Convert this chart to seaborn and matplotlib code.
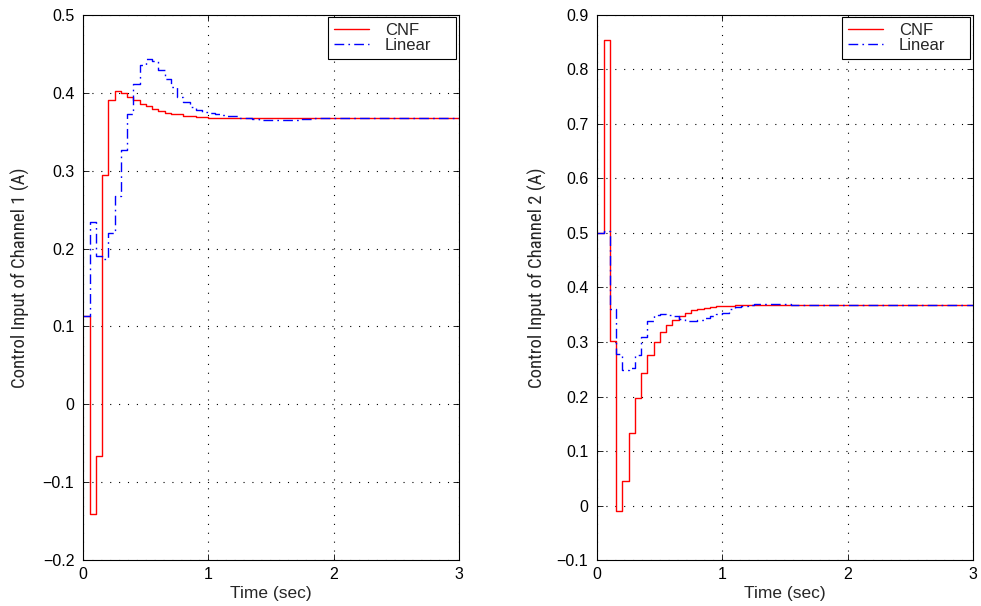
import numpy as np
import pandas as pd
import matplotlib
matplotlib.use("Agg")
import matplotlib.pyplot as plt
from matplotlib import font_manager as fm
import seaborn as sns

# ---------------- data ----------------
dt = 0.05  # sample period (sec)

ch1_cnf = [0.114, -0.141, -0.066, 0.294, 0.390, 0.402, 0.3996, 0.394, 0.390, 0.3855,
           0.3825, 0.379, 0.376, 0.3745, 0.373, 0.372, 0.3705, 0.3695, 0.369, 0.3685,
           0.368, 0.368, 0.368, 0.368, 0.368, 0.368, 0.368, 0.368, 0.368, 0.368,
           0.368, 0.368, 0.368, 0.368, 0.368, 0.368, 0.368, 0.368, 0.368, 0.368,
           0.368, 0.368, 0.368, 0.368, 0.368, 0.368, 0.368, 0.368, 0.368, 0.368,
           0.368, 0.368, 0.368, 0.368, 0.368, 0.368, 0.368, 0.368, 0.368, 0.368]
ch1_linear = [0.114, 0.234, 0.190, 0.187, 0.220, 0.268, 0.326, 0.372, 0.411, 0.435,
              0.443, 0.441, 0.429, 0.418, 0.407, 0.395, 0.388, 0.381, 0.378, 0.375,
              0.3735, 0.372, 0.371, 0.370, 0.3695, 0.368, 0.367, 0.366, 0.365, 0.365,
              0.365, 0.365, 0.365, 0.365, 0.3655, 0.366, 0.3665, 0.367, 0.3675, 0.368,
              0.368, 0.368, 0.368, 0.368, 0.368, 0.368, 0.368, 0.368, 0.368, 0.368,
              0.368, 0.368, 0.368, 0.368, 0.368, 0.368, 0.368, 0.368, 0.368, 0.368]
ch2_cnf = [0.499, 0.853, 0.302, -0.009, 0.045, 0.133, 0.197, 0.243, 0.276, 0.300,
           0.318, 0.332, 0.341, 0.348, 0.354, 0.358, 0.361, 0.363, 0.3645, 0.366,
           0.367, 0.367, 0.3675, 0.368, 0.368, 0.368, 0.368, 0.368, 0.368, 0.368,
           0.368, 0.368, 0.368, 0.368, 0.368, 0.368, 0.368, 0.368, 0.368, 0.368,
           0.368, 0.368, 0.368, 0.368, 0.368, 0.368, 0.368, 0.368, 0.368, 0.368,
           0.368, 0.368, 0.368, 0.368, 0.368, 0.368, 0.368, 0.368, 0.368, 0.368]
ch2_linear = [0.499, 0.504, 0.360, 0.278, 0.249, 0.253, 0.277, 0.310, 0.338, 0.349,
              0.351, 0.350, 0.347, 0.343, 0.339, 0.338, 0.340, 0.344, 0.347, 0.352,
              0.354, 0.361, 0.364, 0.366, 0.368, 0.3695, 0.3695, 0.3695, 0.3695, 0.369,
              0.369, 0.368, 0.368, 0.368, 0.368, 0.368, 0.368, 0.368, 0.368, 0.368,
              0.368, 0.368, 0.368, 0.368, 0.368, 0.368, 0.368, 0.368, 0.368, 0.368,
              0.368, 0.368, 0.368, 0.368, 0.368, 0.368, 0.368, 0.368, 0.368, 0.368]

series_labels = ["CNF", "Linear"]
x_ticks = [0, 1, 2, 3]
ch1_yticks = [-0.2, -0.1, 0, 0.1, 0.2, 0.3, 0.4, 0.5]
ch2_yticks = [-0.1, 0, 0.1, 0.2, 0.3, 0.4, 0.5, 0.6, 0.7, 0.8, 0.9]
x_label = "Time (sec)"
y_labels = ["Control Input of Channel 1 (A)", "Control Input of Channel 2 (A)"]

# ---------------- style ----------------
sns.set_theme(style="white", rc={
    "xtick.direction": "in", "ytick.direction": "in",
    "xtick.top": True, "ytick.right": True,
    "xtick.bottom": True, "ytick.left": True,
    "xtick.major.size": 4, "ytick.major.size": 4,
    "xtick.major.width": 0.6, "ytick.major.width": 0.6,
    "axes.edgecolor": "black", "axes.linewidth": 0.8,
})
plt.rcParams["font.family"] = ["Liberation Sans", "DejaVu Sans"]

installed = {f.name for f in fm.fontManager.ttflist}
if "Liberation Sans Narrow" in installed:
    ylab_family, ylab_size = ["Liberation Sans Narrow", "DejaVu Sans"], 14.0
elif "Roboto Condensed" in installed:
    ylab_family, ylab_size = ["Roboto Condensed", "DejaVu Sans"], 13.5
else:
    ylab_family, ylab_size = ["Liberation Sans", "DejaVu Sans"], 12.2

fig = plt.figure(figsize=(9.81, 6.06), dpi=100)
ax_w = 375.5 / 981
ax_h = 545.6 / 606
bottom = (606 - 560.3) / 606
ax1 = fig.add_axes([83.3 / 981, bottom, ax_w, ax_h])
ax2 = fig.add_axes([597.3 / 981, bottom, ax_w, ax_h])


def make_frame(cnf, lin):
    n = len(cnf)
    t = np.arange(n + 1) * dt
    return pd.DataFrame({
        "t": np.concatenate([t, t]),
        "u": list(cnf) + [cnf[-1]] + list(lin) + [lin[-1]],
        "series": [series_labels[0]] * (n + 1) + [series_labels[1]] * (n + 1),
    })


def draw(ax, cnf, lin, yticks, ylabel, ylab_x):
    df = make_frame(cnf, lin)
    sns.lineplot(data=df[df.series == series_labels[0]], x="t", y="u", ax=ax,
                 color="#ff0000", linewidth=1.0, drawstyle="steps-post",
                 estimator=None, sort=False, label=series_labels[0])
    sns.lineplot(data=df[df.series == series_labels[1]], x="t", y="u", ax=ax,
                 color="#0000ff", linewidth=1.0, drawstyle="steps-post",
                 linestyle=(0, (7, 3, 1.2, 3)),
                 estimator=None, sort=False, label=series_labels[1])
    ax.set_xlim(x_ticks[0], x_ticks[-1])
    ax.set_ylim(yticks[0], yticks[-1])
    ax.set_xticks(x_ticks)
    ax.set_yticks(yticks)
    ax.set_xticklabels([f"{v:g}" for v in x_ticks])
    ax.set_yticklabels([f"{v:g}".replace("-", "\u2212") for v in yticks])
    ax.tick_params(labelsize=11.5, colors="black")
    ax.tick_params(axis="y", pad=6.5)
    ax.tick_params(axis="x", pad=5)
    ax.grid(True, color="black", linestyle=(0, (1, 7)), linewidth=0.8)
    ax.set_xlabel(x_label, fontsize=12.5, labelpad=3)
    ax.set_ylabel(ylabel, fontsize=ylab_size, family=ylab_family)
    ax.yaxis.set_label_coords(ylab_x, 0.518)
    for s in ax.spines.values():
        s.set_visible(True)
        s.set_color("black")
    leg = ax.legend(loc="upper right", bbox_to_anchor=(0.6517, 0.5, 0.3408, 0.4958),
                    mode="expand", frameon=True, fancybox=False,
                    edgecolor="black", framealpha=1, fontsize=12,
                    borderaxespad=0.0, handlelength=2.1, handletextpad=0.95,
                    borderpad=0.35, labelspacing=0.0)
    leg.get_frame().set_linewidth(0.8)


draw(ax1, ch1_cnf, ch1_linear, ch1_yticks, y_labels[0], -0.143)
draw(ax2, ch2_cnf, ch2_linear, ch2_yticks, y_labels[1], -0.133)

fig.savefig("out.png", dpi=100)
